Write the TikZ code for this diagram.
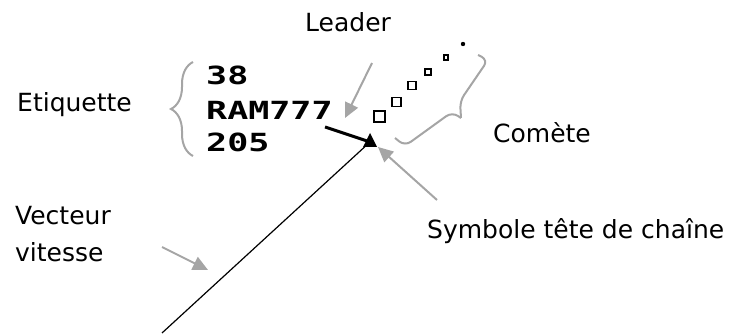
\documentclass[tikz,border=0pt]{standalone}
\usepackage{fontspec}
\setmainfont{DejaVu Sans}
\newfontfamily\tagfont[FakeStretch=1.4]{DejaVu Sans Mono}
\usetikzlibrary{arrows.meta, positioning, decorations.pathreplacing}
\definecolor{pointer}{RGB}{165,165,165}
\tikzset{
  caption/.style={anchor=base west, inner sep=0pt, font=\fontsize{25}{30}\selectfont},
  tagline/.style={anchor=base west, inner sep=0pt, font=\tagfont\bfseries\fontsize{25}{30}\selectfont},
  pointerarrow/.style={-{Triangle[length=15pt,width=14pt]}, pointer, line width=2pt},
  greybrace/.style={pointer, line width=2pt, decorate, decoration={brace, amplitude=#1}},
  bentbrace/.style={pointer, line width=2pt, rounded corners=7pt}
}

\begin{document}
\begin{tikzpicture}[x=1pt, y=-1pt]
  \useasboundingbox (0,0) rectangle (744,336);
  % captions
  \node[caption] (leader) at (305,32) {Leader};
  \node[caption] (etiquette) at (17,112) {Etiquette};
  \node[caption] (comete) at (493,143) {Comète};
  \node[caption] (vecteur) at (15,225) {Vecteur};
  \node[caption] (vitesse) at (15,262) {vitesse};
  \node[caption] (symbole) at (427,239) {Symbole tête de chaîne};
  % data block
  \node[tagline] (alt) at (206,85) {38};
  \node[tagline] (callsign) at (206,120) {RAM777};
  \node[tagline] (speed) at (206,152) {205};
  % speed vector, leader and head symbol
  \coordinate (head) at (370,142);
  \coordinate (vtail) at (162,333);
  \coordinate (ldstart) at (325,127);
  \draw[line width=1.2pt] (vtail) -- (head);
  \draw[line width=3pt] (ldstart) -- (head);
  \fill[shift={(head)}] (-7,5) -- (0,-9) -- (7,5) -- cycle;
  % comet
  \foreach \x/\y/\s in {379.5/116.5/11, 396.5/102/9, 412/85.5/8, 428/72/6, 446/57.5/4.5} {
    \draw[line width=1.8pt] (\x-\s/2,\y-\s/2) rectangle (\x+\s/2,\y+\s/2);
  }
  \fill (463,44) circle (2.2);
  % braces
  \draw[greybrace=22] (193,156) -- (193,62);
  \draw[bentbrace] (478,55) -- (488,60) -- (460,101) -- (461,118);
  \draw[bentbrace] (461,118) -- (452,112) -- (405,146) -- (395,138);
  % pointers
  \coordinate (p1) at (372,63);
  \coordinate (t1) at (345,118);
  \coordinate (p2) at (437,200);
  \coordinate (t2) at (378,147);
  \coordinate (p3) at (162,247);
  \coordinate (t3) at (208,270);
  \draw[pointerarrow] (p1) -- (t1);
  \draw[pointerarrow] (p2) -- (t2);
  \draw[pointerarrow] (p3) -- (t3);
\end{tikzpicture}
\end{document}
